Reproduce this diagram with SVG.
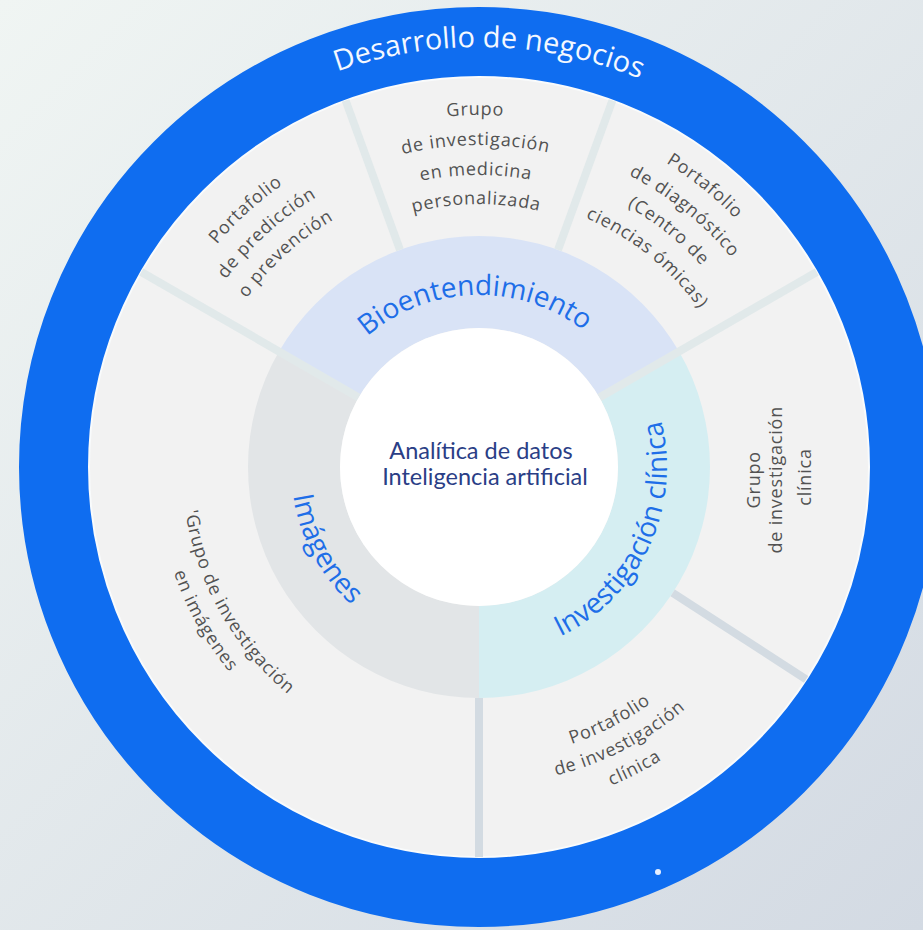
<svg xmlns="http://www.w3.org/2000/svg" xmlns:xlink="http://www.w3.org/1999/xlink" width="923" height="930" viewBox="0 0 923 930">
<style>
.gray{font-family:"Open Sans","Liberation Sans",sans-serif;font-size:18px;fill:#525252;letter-spacing:0.8px}
.blue{font-family:"Open Sans","Liberation Sans",sans-serif;font-size:28px;fill:#1e6ee8}
.title{font-family:"Open Sans","Liberation Sans",sans-serif;font-size:29px;fill:#f4f8ff}
.center{font-family:Lato,"Liberation Sans",sans-serif;font-size:23.5px;fill:#2a3e86;text-anchor:middle}
.dl{stroke:#e1e9ea;stroke-width:8;stroke-linecap:butt}
.dd{stroke:#d3dbe2;stroke-width:8;stroke-linecap:butt}
</style>
<defs>
<linearGradient id="bg" x1="0" y1="0" x2="1" y2="1">
<stop offset="0" stop-color="#f0f5f3"/>
<stop offset="1" stop-color="#d3dae3"/>
</linearGradient>
<path id="cw420" d="M 59 467 A 420 420 0 0 1 899 467"/>
<path id="cw172" d="M 307 467 A 172 172 0 0 1 651 467"/>
<path id="cw352" d="M 127 467 A 352 352 0 0 1 831 467"/>
<path id="cw322" d="M 157 467 A 322 322 0 0 1 801 467"/>
<path id="cw292" d="M 187 467 A 292 292 0 0 1 771 467"/>
<path id="cw263" d="M 216 467 A 263 263 0 0 1 742 467"/>
<path id="cw344" d="M 135 467 A 344 344 0 0 1 823 467"/>
<path id="cw315" d="M 164 467 A 315 315 0 0 1 794 467"/>
<path id="cw287" d="M 192 467 A 287 287 0 0 1 766 467"/>
<path id="cw357" d="M 122 467 A 357 357 0 0 1 836 467"/>
<path id="cw328" d="M 151 467 A 328 328 0 0 1 807 467"/>
<path id="cw300" d="M 179 467 A 300 300 0 0 1 779 467"/>
<path id="cw271" d="M 208 467 A 271 271 0 0 1 750 467"/>
<path id="ccw188" d="M 291 467 A 188 188 0 0 0 667 467"/>
<path id="ccw292" d="M 187 467 A 292 292 0 0 0 771 467"/>
<path id="ccw318" d="M 161 467 A 318 318 0 0 0 797 467"/>
<path id="ccw345" d="M 134 467 A 345 345 0 0 0 824 467"/>
<path id="ccw297" d="M 182 467 A 297 297 0 0 0 776 467"/>
<path id="ccw323" d="M 156 467 A 323 323 0 0 0 802 467"/>
</defs>
<rect x="0" y="0" width="923" height="930" fill="url(#bg)"/>

<g id="desarrollo-de-negocios">
<circle cx="479" cy="467" r="425" fill="none" stroke="#0f6df0" stroke-width="70"/>
<text class="title" transform="rotate(1.4 479 467)"><textPath href="#cw420" startOffset="50%" text-anchor="middle">Desarrollo de negocios</textPath></text>
<circle cx="658" cy="872" r="3" fill="#e6efff"/>
</g>

<g id="panel">
<circle cx="479" cy="467" r="390" fill="#f2f2f2" stroke="#f9fbfc" stroke-width="2"/>
</g>

<g id="bioentendimiento">
<path d="M 278.95 351.5 A 231 231 0 0 1 679.05 351.5 L 599.4 397.5 A 139 139 0 0 0 358.6 397.5 Z" fill="#d9e3f6"/>
<text class="blue" transform="rotate(-1.5 479 467)"><textPath href="#cw172" startOffset="50%" text-anchor="middle">Bioentendimiento</textPath></text>
</g>

<g id="investigacion-clinica">
<path d="M 679.05 351.5 A 231 231 0 0 1 479 698 L 479 606 A 139 139 0 0 0 599.4 397.5 Z" fill="#d5eef2"/>
<text class="blue" transform="rotate(-65 479 467)"><textPath href="#ccw188" startOffset="50%" text-anchor="middle">Investigación clínica</textPath></text>
</g>

<g id="imagenes">
<path d="M 479 698 A 231 231 0 0 1 278.95 351.5 L 358.6 397.5 A 139 139 0 0 0 479 606 Z" fill="#e2e5e7"/>
<text class="blue" transform="rotate(62 479 467)"><textPath href="#ccw188" startOffset="50%" text-anchor="middle">Imágenes</textPath></text>
</g>

<g id="dividers">
<line class="dl" x1="358.6" y1="397.5" x2="141.3" y2="272"/>
<line class="dl" x1="599.4" y1="397.5" x2="816.7" y2="272"/>
<line class="dl" x1="400" y1="249.9" x2="345.6" y2="100.5"/>
<line class="dl" x1="558" y1="249.9" x2="612.4" y2="100.5"/>
<line class="dd" x1="672.7" y1="592.8" x2="806.1" y2="679.4"/>
<line class="dd" x1="479" y1="698" x2="479" y2="857"/>
</g>

<g id="portafolio-prediccion">
<text class="gray" transform="rotate(-42.2 479 467)"><textPath href="#cw344" startOffset="50%" text-anchor="middle">Portafolio</textPath></text>
<text class="gray" transform="rotate(-42.2 479 467)"><textPath href="#cw315" startOffset="50%" text-anchor="middle">de predicción</textPath></text>
<text class="gray" transform="rotate(-42.2 479 467)"><textPath href="#cw287" startOffset="50%" text-anchor="middle">o prevención</textPath></text>
</g>

<g id="grupo-medicina-personalizada">
<text class="gray" transform="rotate(-0.6 479 467)"><textPath href="#cw352" startOffset="50%" text-anchor="middle">Grupo</textPath></text>
<text class="gray" transform="rotate(-0.6 479 467)"><textPath href="#cw322" startOffset="50%" text-anchor="middle">de investigación</textPath></text>
<text class="gray" transform="rotate(-0.6 479 467)"><textPath href="#cw292" startOffset="50%" text-anchor="middle">en medicina</textPath></text>
<text class="gray" transform="rotate(-0.6 479 467)"><textPath href="#cw263" startOffset="50%" text-anchor="middle">personalizada</textPath></text>
</g>

<g id="portafolio-diagnostico">
<text class="gray" transform="rotate(38.8 479 467)"><textPath href="#cw357" startOffset="50%" text-anchor="middle">Portafolio</textPath></text>
<text class="gray" transform="rotate(38.8 479 467)"><textPath href="#cw328" startOffset="50%" text-anchor="middle">de diagnóstico</textPath></text>
<text class="gray" transform="rotate(38.8 479 467)"><textPath href="#cw300" startOffset="50%" text-anchor="middle">(Centro de</textPath></text>
<text class="gray" transform="rotate(38.8 479 467)"><textPath href="#cw271" startOffset="50%" text-anchor="middle">ciencias ómicas)</textPath></text>
</g>

<g id="grupo-investigacion-clinica">
<text class="gray" text-anchor="middle" transform="translate(760 477) rotate(-90)">
<tspan x="0" y="0">Grupo</tspan>
<tspan x="0" y="22">de investigación</tspan>
<tspan x="0" y="51">clínica</tspan>
</text>
</g>

<g id="portafolio-investigacion-clinica">
<text class="gray" transform="rotate(-27.3 479 467)"><textPath href="#ccw292" startOffset="50%" text-anchor="middle">Portafolio</textPath></text>
<text class="gray" transform="rotate(-27.3 479 467)"><textPath href="#ccw318" startOffset="50%" text-anchor="middle">de investigación</textPath></text>
<text class="gray" transform="rotate(-27.3 479 467)"><textPath href="#ccw345" startOffset="50%" text-anchor="middle">clínica</textPath></text>
</g>

<g id="grupo-imagenes">
<text class="gray" transform="rotate(60.7 479 467)"><textPath href="#ccw297" startOffset="50%" text-anchor="middle">'Grupo de investigación</textPath></text>
<text class="gray" transform="rotate(60.7 479 467)"><textPath href="#ccw323" startOffset="50%" text-anchor="middle">en imágenes</textPath></text>
</g>

<g id="nucleo">
<circle cx="479" cy="467" r="139" fill="#ffffff"/>
<text class="center" x="481" y="459">Analítica de datos</text>
<text class="center" x="485" y="485">Inteligencia artificial</text>
</g>
</svg>
